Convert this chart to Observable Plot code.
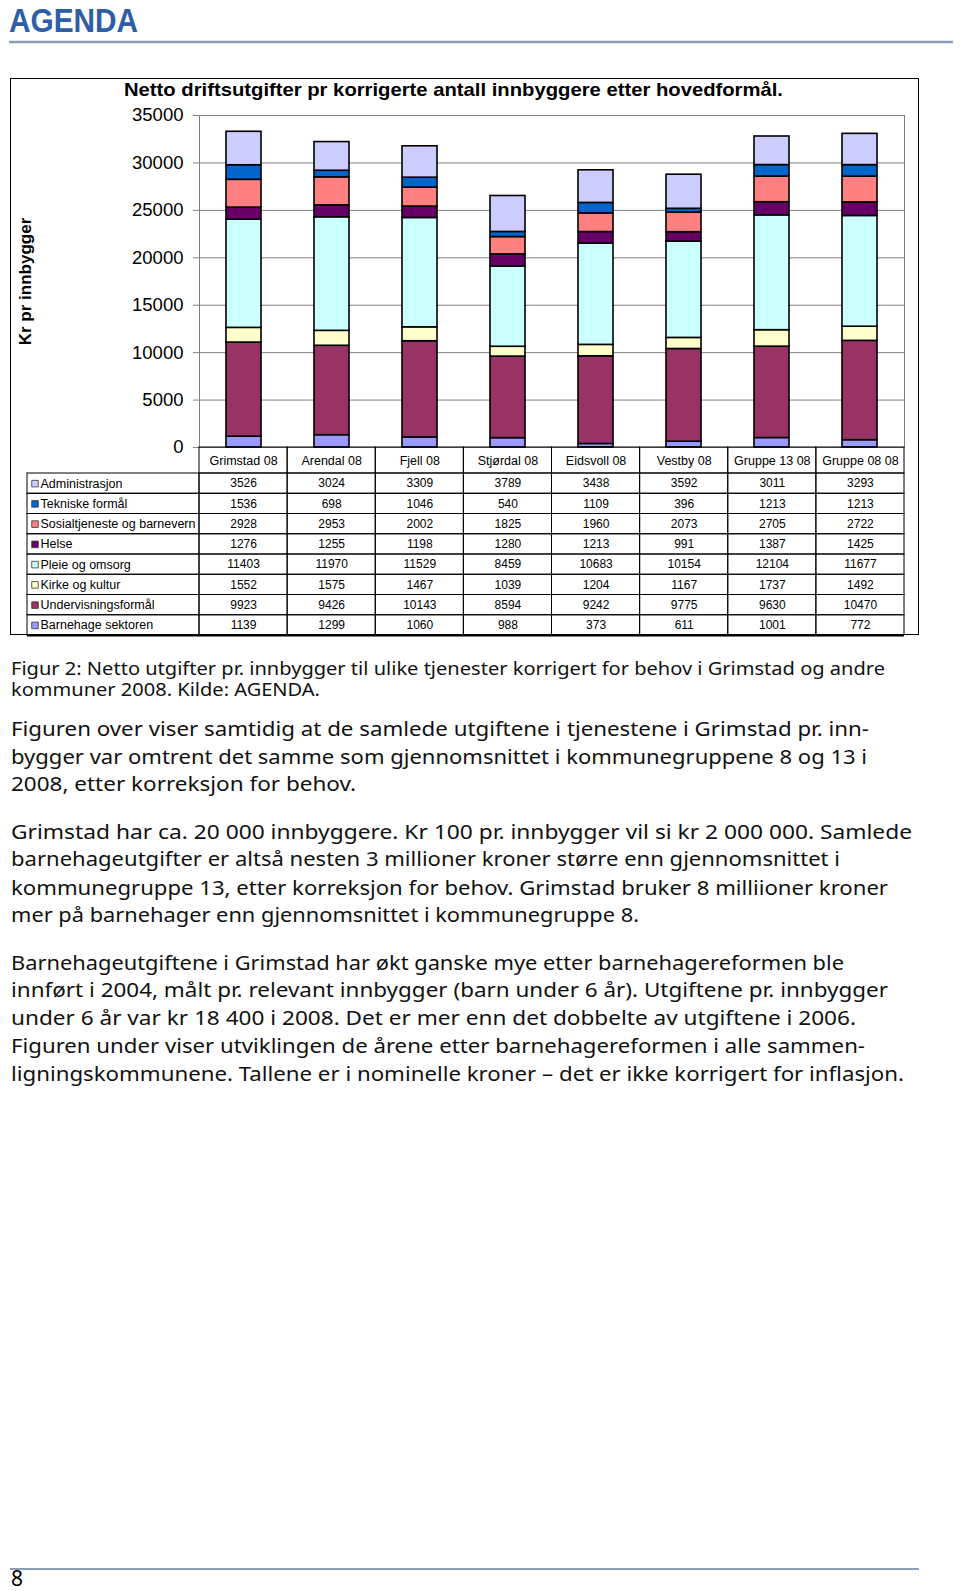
<!DOCTYPE html>
<html><head><meta charset="utf-8">
<script src="https://cdn.jsdelivr.net/npm/d3@7"></script>
<script src="https://cdn.jsdelivr.net/npm/@observablehq/plot@0.6"></script>
<style>
html,body{margin:0;padding:0;background:#fff;}
body{width:960px;height:1591px;position:relative;overflow:hidden;}
#frame{position:absolute;left:10px;top:78px;width:909px;height:557px;border:1.5px solid #000;box-sizing:border-box;}
#chart{position:absolute;left:0;top:78px;}
#table{position:absolute;left:0;top:447px;}
#page{position:absolute;left:0;top:0;pointer-events:none;}
</style></head><body>
<div id="frame"></div>
<div id="chart"></div>
<div id="table"></div>
<svg id="page" width="960" height="1591"></svg>
<script>
// ---------- data ----------
const categories = ["Grimstad 08","Arendal 08","Fjell 08","Stjørdal 08","Eidsvoll 08","Vestby 08","Gruppe 13 08","Gruppe 08 08"];
const seriesNames = ["Administrasjon","Tekniske formål","Sosialtjeneste og barnevern","Helse","Pleie og omsorg","Kirke og kultur","Undervisningsformål","Barnehage sektoren"];
const seriesColors = ["#ccccff","#0066cc","#ff8080","#660066","#ccffff","#ffffcc","#993366","#9999ff"];
const administrasjon = [3526,3024,3309,3789,3438,3592,3011,3293];
const tekniske = [1536,698,1046,540,1109,396,1213,1213];
const sosialtjeneste = [2928,2953,2002,1825,1960,2073,2705,2722];
const helse = [1276,1255,1198,1280,1213,991,1387,1425];
const pleie = [11403,11970,11529,8459,10683,10154,12104,11677];
const kirke = [1552,1575,1467,1039,1204,1167,1737,1492];
const undervisning = [9923,9426,10143,8594,9242,9775,9630,10470];
const barnehage = [1139,1299,1060,988,373,611,1001,772];
const seriesValues = [administrasjon,tekniske,sosialtjeneste,helse,pleie,kirke,undervisning,barnehage];
const yTicks = [0,5000,10000,15000,20000,25000,30000,35000];

const chartTitle = "Netto driftsutgifter pr korrigerte antall innbyggere etter hovedformål.";
const yLabel = "Kr pr innbygger";
const logoText = "AGENDA";
const captionLines = [
  "Figur 2: Netto utgifter pr. innbygger til ulike tjenester korrigert for behov i Grimstad og andre",
  "kommuner 2008. Kilde: AGENDA."
];
const paragraph1 = [
  "Figuren over viser samtidig at de samlede utgiftene i tjenestene i Grimstad pr. inn-",
  "bygger var omtrent det samme som gjennomsnittet i kommunegruppene 8 og 13 i",
  "2008, etter korreksjon for behov."
];
const paragraph2 = [
  "Grimstad har ca. 20 000 innbyggere. Kr 100 pr. innbygger vil si kr 2 000 000. Samlede",
  "barnehageutgifter er altså nesten 3 millioner kroner større enn gjennomsnittet i",
  "kommunegruppe 13, etter korreksjon for behov. Grimstad bruker 8 milliioner kroner",
  "mer på barnehager enn gjennomsnittet i kommunegruppe 8."
];
const paragraph3 = [
  "Barnehageutgiftene i Grimstad har økt ganske mye etter barnehagereformen ble",
  "innført i 2004, målt pr. relevant innbygger (barn under 6 år). Utgiftene pr. innbygger",
  "under 6 år var kr 18 400 i 2008. Det er mer enn det dobbelte av utgiftene i 2006.",
  "Figuren under viser utviklingen de årene etter barnehagereformen i alle sammen-",
  "ligningskommunene. Tallene er i nominelle kroner – det er ikke korrigert for inflasjon."
];
const pageNumber = "8";

// ---------- layout ----------
const FONT = "'Liberation Sans', Arial, sans-serif";
const BODYFONT = "'Noto Sans', 'Open Sans', sans-serif";
const plotLeft = 199, plotRight = 904, plotTop = 115, plotZero = 447;
const tableLeft = 27, headerBottom = 473, tableBottom = 635;

// stacked long data: bottom series first
const stacked = [];
seriesNames.map((n, j) => j).reverse().forEach(j => {
  categories.forEach((c, i) => stacked.push({cat: c, series: seriesNames[j], value: seriesValues[j][i]}));
});

const chart = Plot.plot({
  width: 960, height: plotZero - 78 + 1,
  marginLeft: plotLeft, marginRight: 960 - plotRight, marginTop: plotTop - 78, marginBottom: 1,
  style: {fontFamily: FONT, background: "transparent", overflow: "visible", color: "#000"},
  x: {domain: categories, paddingInner: 0.6, paddingOuter: 0.3, axis: null},
  y: {domain: [0, 35000], axis: null},
  color: {domain: seriesNames, range: seriesColors},
  marks: [
    Plot.ruleY(yTicks, {stroke: "#808080", strokeWidth: 1}),
    Plot.frame({stroke: "#808080", strokeWidth: 1}),
    Plot.barY(stacked, {x: "cat", y: "value", fill: "series", stroke: "#000", strokeWidth: 1.6}),
    Plot.axisY(yTicks, {tickSize: 6, tickPadding: 10, fontSize: 18.5, stroke: "#808080", fill: "#000", label: null, tickFormat: d => String(d)}),
    Plot.text([yLabel], {frameAnchor: "left", textAnchor: "middle", dx: 25 - plotLeft, rotate: -90, fontSize: 17, fontWeight: "bold", fill: "#000"})
  ]
});
document.getElementById("chart").appendChild(chart);

// ---------- table ----------
const step = (plotRight - plotLeft) / categories.length;
const rowH = (tableBottom - headerBottom) / seriesNames.length;
const L = (plotLeft - tableLeft) / step;          // label column width in column units
const H = (headerBottom - plotZero) / rowH;        // header height in row units
const headerCells = categories.map((c, i) => ({c, i}));
const dataCells = [];
seriesNames.forEach((n, j) => categories.forEach((c, i) => dataCells.push({i, j, v: seriesValues[j][i]})));
const labelCells = seriesNames.map((n, j) => ({n, j}));

const table = Plot.plot({
  width: 960, height: tableBottom - plotZero + 2,
  margin: 0,
  style: {fontFamily: FONT, background: "transparent", overflow: "visible", color: "#000"},
  x: {type: "linear", domain: [-L, categories.length], range: [tableLeft, plotRight], axis: null},
  y: {type: "linear", domain: [0, H + seriesNames.length], range: [0, tableBottom - plotZero], axis: null},
  color: {domain: seriesNames, range: seriesColors},
  marks: [
    Plot.rect(headerCells, {x1: d => d.i, x2: d => d.i + 1, y1: 0, y2: H, stroke: "#000", strokeWidth: 1, fill: "none"}),
    Plot.rect(dataCells, {x1: d => d.i, x2: d => d.i + 1, y1: d => H + d.j, y2: d => H + d.j + 1, stroke: "#000", strokeWidth: 1, fill: "none"}),
    Plot.rect(labelCells, {x1: -L, x2: 0, y1: d => H + d.j, y2: d => H + d.j + 1, stroke: "#000", strokeWidth: 1, fill: "none"}),
    Plot.ruleY([H + seriesNames.length], {x1: -L, x2: categories.length, stroke: "#000", strokeWidth: 2}),
    Plot.text(headerCells, {x: d => d.i + 0.5, y: H / 2, text: "c", fontSize: 12.5, fill: "#000"}),
    Plot.text(dataCells, {x: d => d.i + 0.5, y: d => H + d.j + 0.5, text: d => String(d.v), fontSize: 12, fill: "#000"}),
    Plot.dot(labelCells, {x: -L, y: d => H + d.j + 0.5, dx: 7.5, symbol: "square", r: 3.7, fill: "n", stroke: "#333", strokeWidth: 0.8}),
    Plot.text(labelCells, {x: -L, y: d => H + d.j + 0.5, dx: 13, text: "n", textAnchor: "start", fontSize: 12.5, fill: "#000"})
  ]
});
document.getElementById("table").appendChild(table);

// ---------- page text ----------
const page = d3.select("#page");
function line(x1, x2, y, w, c) {
  page.append("line").attr("x1", x1).attr("x2", x2).attr("y1", y).attr("y2", y).attr("stroke", c).attr("stroke-width", w);
}
function txt(s, x, y, size, width, opts = {}) {
  const t = page.append("text").attr("x", x).attr("y", y).attr("font-size", size)
    .attr("font-family", opts.family || BODYFONT).attr("fill", opts.fill || "#111")
    .attr("font-weight", opts.weight || "normal").text(s);
  if (width) t.attr("textLength", width).attr("lengthAdjust", "spacingAndGlyphs");
  return t;
}
txt(logoText, 9, 32, 33, 129, {family: FONT, weight: "bold", fill: "#2d5ea6"});
line(9, 953, 42, 2.5, "#8d9db6");
txt(chartTitle, 124, 95.5, 19, 659, {family: FONT, weight: "bold", fill: "#000"});

const capBase = [674.5, 695.5], capEnd = [885, 320];
captionLines.forEach((s, k) => txt(s, 11, capBase[k], 18, capEnd[k] - 11));
const p1Base = [736, 763.5, 791], p1End = [869, 867, 356];
paragraph1.forEach((s, k) => txt(s, 11, p1Base[k], 20.5, p1End[k] - 11));
const p2Base = [838.5, 866, 894.5, 922], p2End = [912, 840, 888, 639];
paragraph2.forEach((s, k) => txt(s, 11, p2Base[k], 20.5, p2End[k] - 11));
const p3Base = [969.5, 997, 1025, 1052.5, 1081], p3End = [844, 888, 856, 865, 904];
paragraph3.forEach((s, k) => txt(s, 11, p3Base[k], 20.5, p3End[k] - 11));

line(10, 919, 1569, 2, "#8d9db6");
txt(pageNumber, 11, 1586, 21, null, {fill: "#000"});
</script>
</body></html>
